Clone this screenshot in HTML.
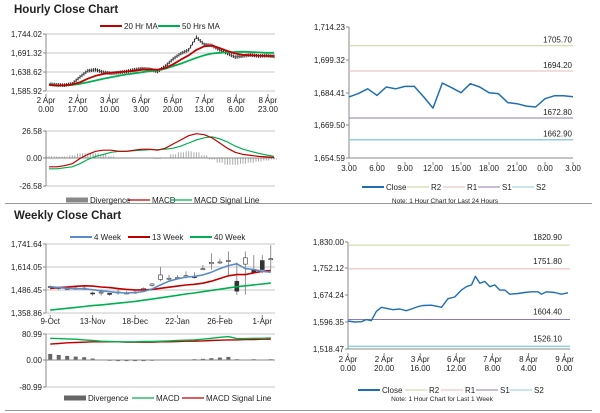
<!DOCTYPE html>
<html><head><meta charset="utf-8"><style>
html,body{margin:0;padding:0;background:#fff;}
svg{display:block;font-family:"Liberation Sans",sans-serif;}
text{font-size:8px;fill:#222;}
.t{font-size:11.5px;font-weight:bold;}
</style></head><body>
<svg id="s" width="600" height="413" viewBox="0 0 600 413" xmlns="http://www.w3.org/2000/svg">
<text class="t" x="14" y="13">Hourly Close Chart</text>
<text class="t" x="14" y="219">Weekly Close Chart</text>
<line x1="5" y1="203.5" x2="592" y2="203.5" stroke="#999"/>
<line x1="5" y1="410.5" x2="592" y2="410.5" stroke="#999"/>
</svg>
<script>
// ---- Hourly left (candles simplified) ----
const hCats = ["2 Apr|0.00","2 Apr|17.00","3 Apr|10.00","6 Apr|3.00","6 Apr|20.00","7 Apr|13.00","8 Apr|6.00","8 Apr|23.00"];
const hClose = [1605,1603,1602,1606,1625,1642,1645,1638,1635,1637,1640,1645,1648,1646,1640,1655,1675,1690,1700,1735,1715,1712,1700,1690,1680,1683,1686,1683,1684,1682];
const hMa20 = [1603,1601,1602,1604,1610,1620,1628,1633,1636,1638,1640,1642,1645,1646,1645,1650,1660,1673,1685,1700,1710,1712,1705,1697,1690,1686,1685,1684,1683,1683];
const hMa50 = [1605,1602,1601,1603,1606,1610,1615,1620,1624,1628,1632,1635,1638,1641,1643,1648,1655,1662,1670,1678,1685,1690,1692,1693,1694,1695,1694,1693,1692,1692];
const hTicks = ["1,744.02","1,691.32","1,638.62","1,585.92"];
const hMacd = [-8,-8,-7,-5,0,4,7,8,8,7,7,8,9,9,8,10,14,18,22,24,23,20,15,10,6,4,3,2,1.5,1];
const hSignal = [-10,-10,-9,-8,-5,-1,2,4,6,7,7,7.5,8,8.5,8.5,9,10,12,15,18,20,21,19,16,12,9,7,5,3.5,2];
// ---- Hourly right ----
const dCats = ["3.00","6.00","9.00","12.00","15.00","18.00","21.00","0.00","3.00"];
const dClose = [1682.4,1683.9,1686.1,1683.1,1686.9,1686.1,1687.2,1687.2,1682.4,1677.3,1688.7,1686.6,1684.3,1688.4,1686.9,1684.3,1683.9,1679.8,1679.3,1678.2,1677.8,1681.6,1682.9,1682.9,1682.5];
const dLevels = [1705.70,1694.20,1672.80,1662.90];
const dTicks = ["1,714.23","1,699.32","1,684.41","1,669.50","1,654.59"];
// ---- Weekly left ----
const wCats = ["9-Oct","13-Nov","18-Dec","22-Jan","26-Feb","1-Apr"];
const wOpen = [1500,1500,1490,1492,1497,1470,1470,1468,1470,1468,1472,1485,1512,1545,1548,1552,1560,1560,1600,1632,1640,1645,1535,1630,1600,1650,1655];
const wClose= [1506,1495,1495,1497,1494,1465,1475,1462,1475,1470,1475,1495,1520,1570,1552,1556,1566,1558,1605,1640,1642,1650,1480,1665,1585,1600,1660];
const wHigh = [1512,1505,1500,1505,1510,1478,1490,1470,1490,1480,1482,1500,1525,1615,1570,1570,1590,1585,1625,1690,1660,1700,1640,1700,1680,1680,1735];
const wLow  = [1495,1485,1485,1488,1485,1455,1455,1455,1460,1462,1465,1482,1505,1535,1540,1545,1550,1550,1595,1600,1630,1570,1460,1460,1580,1580,1600];
const w4 = [1505,1500,1496,1494,1493,1488,1482,1477,1472,1470,1472,1478,1492,1515,1535,1548,1558,1562,1570,1585,1605,1622,1632,1605,1600,1590,1585];
const w13 = [1495,1500,1503,1507,1510,1508,1503,1500,1494,1490,1487,1487,1490,1496,1502,1508,1514,1518,1524,1535,1550,1565,1572,1572,1582,1590,1595];
const w40 = [1375,1380,1385,1390,1395,1400,1404,1408,1413,1418,1423,1430,1436,1443,1450,1457,1464,1470,1477,1484,1491,1498,1505,1510,1515,1520,1525];
const wTicks = ["1,741.64","1,614.05","1,486.45","1,358.86"];
const wMacd = [68,67,66,65,63,61,59,58,57,57,57,58,58,59,60,61,62,63,65,68,71,73,67,67,68,68,69];
const wSignal = [50,52,54,55,56,57,57,57,57,56,56,56,56,57,57,58,59,59,60,61,62,63,63,64,64,65,65];
const wDiv = [20,17,14,12,10,6,3,1,0,-1,-1,0,1,2,3,3,3,4,5,7,9,11,4,3,4,3,4];
// ---- Weekly right (hours from 2 Apr 0.00) ----
const kCats = ["2 Apr|0.00","2 Apr|20.00","3 Apr|16.00","6 Apr|12.00","7 Apr|8.00","8 Apr|4.00","9 Apr|0.00"];
const kHours = [0,3.7,7.4,10.2,12.9,15.7,18.5,21.2,24.9,28.6,32.3,35.1,38.8,41.6,46.2,50,51.8,55.4,59.1,62.8,65.6,68.4,70.6,73,75.8,78.6,81.3,84.1,86.9,89.6,94.2,97.9,101.6,105.3,107.1,109.9,114.5,118.2,121.9];
const kClose = [1600,1597,1598,1604,1601,1628,1640,1637,1633,1635,1630,1635,1642,1645,1646,1642,1640,1665,1670,1690,1700,1705,1730,1710,1715,1700,1705,1690,1690,1678,1680,1683,1685,1685,1678,1685,1683,1678,1682];
const kLevels = [1820.90,1751.80,1604.40,1526.10];
const kTicks = ["1,830.00","1,752.12","1,674.24","1,596.35","1,518.47"];

const S = document.getElementById('s');
const NS = "http://www.w3.org/2000/svg";
function mk(tag, attrs, txt){const e=document.createElementNS(NS,tag);for(const k in attrs)e.setAttribute(k,attrs[k]);if(txt!==undefined)e.textContent=txt;S.appendChild(e);return e;}
function lin(d0,d1,r0,r1){return v=>r0+(v-d0)/(d1-d0)*(r1-r0);}
function path(xs,ys){return xs.map((x,i)=>(i?'L':'M')+x.toFixed(1)+','+ys[i].toFixed(1)).join('');}
function legend(items,y){items.forEach(it=>{
  let e;
  if(it.bar){e=mk('rect',{x:it.x,y:y-2.5,width:22,height:5,fill:it.c});}
  else{e=mk('line',{x1:it.x,y1:y,x2:it.x+22,y2:y,stroke:it.c,'stroke-width':it.w||2});}
  
  
  const t=mk('text',{x:it.x+24,y:y+3},it.t);
  
  
});}
function hgrid(x0,x1,ys,labels,name,grid){ys.forEach((y,i)=>{
  if(grid){const g=mk('line',{x1:x0,y1:y,x2:x1,y2:y,stroke:'#b5b5b5','stroke-width':0.8});
  
  }
  const tk=mk('line',{x1:x0-3,y1:y,x2:x0,y2:y,stroke:'#888'});
  
  
  const t=mk('text',{x:x0-4,y:y+3,'text-anchor':'end'},labels[i]);
  
  
});}
function axisLine(x1,y1,x2,y2,name){const l=mk('line',{x1,y1,x2,y2,stroke:'#888'});
  
  }
function xlabels(xs,cats,y,name){cats.forEach((c,i)=>{const p=c.split('|');
  const tk=mk('line',{x1:xs[i],y1:y-9,x2:xs[i],y2:y-6,stroke:'#888'});
  
  
  const t=mk('text',{x:xs[i],y:y,'text-anchor':'middle'},p[0]);
  
  
  if(p[1]){const t2=mk('text',{x:xs[i],y:y+9,'text-anchor':'middle'},p[1]);
  
  }
});}
function line(xs,ys,c,w,name){const e=mk('path',{d:path(xs,ys),fill:'none',stroke:c,'stroke-width':w,'stroke-linejoin':'round'});
  
  }

// ===== Hourly left main =====
{
 const x0=46,x1=275;
 const y=lin(1585.92,1744.02,91,34);
 const x=lin(0,hClose.length-1,x0+3,x1-1);
 hgrid(x0,x1,[34,53,72,91],hTicks,'hourly-y-axis',true);
 axisLine(x0,34,x0,91,'hourly-y-axis-line');
 const lx=hCats.map((c,i)=>x0+i*31.7);
 xlabels(lx,hCats,103,'hourly-x-axis');
 const xs=hClose.map((v,i)=>x(i));
 hClose.forEach((v,i)=>{if(i==0)return;
   const a=y(hClose[i-1]),b=y(v);
   for(let k=1;k<=4;k++){
     const xx=xs[i-1]+(xs[i]-xs[i-1])*k/4, yy=a+(b-a)*k/4;
     const c=mk('line',{x1:xx,y1:yy-1.8,x2:xx,y2:yy+1.8,stroke:'#222','stroke-width':1});
     
     
   }
 });
 line(xs,hClose.map(y),'#444',0.6,'hourly-close-trace');
 line(xs,hMa50.map(y),'#00b050',1.8,'hourly-50hr-ma-line');
 line(xs,hMa20.map(y),'#c00000',1.8,'hourly-20hr-ma-line');
 legend([{x:100,c:'#c00000',t:'20 Hr MA',n:'20hr-ma'},{x:158,c:'#00b050',t:'50 Hrs MA',n:'50hrs-ma'}],26);
 const my=lin(-26.58,26.58,186,131);
 hgrid(x0,x1,[131,186],["26.58","-26.58"],'hourly-macd-y-axis',true);
 hgrid(x0,x1,[158],["0.00"],'hourly-macd-zero',false);
 axisLine(x0,131,x0,186,'hourly-macd-y-axis-line');
 hMacd.forEach((v,i)=>{const d=v-hSignal[i];
   for(let k=0;k<3;k++){const xx=xs[i]+k*2.5-2.5;
   const b=mk('line',{x1:xx,y1:my(0),x2:xx,y2:my(d),stroke:'#aaa','stroke-width':1});
   
   }
 });
 axisLine(x0,158,x1,158,'hourly-macd-zero-line');
 line(xs,hSignal.map(my),'#00b050',1.2,'hourly-macd-signal-line');
 line(xs,hMacd.map(my),'#c00000',1.2,'hourly-macd-line');
 legend([{x:66,c:'#888',t:'Divergence',n:'divergence',bar:1},{x:128,c:'#c00000',t:'MACD',n:'macd',w:1.2},{x:170,c:'#00b050',t:'MACD Signal Line',n:'macd-signal',w:1.2}],200);
}
// ===== Hourly right =====
{
 const x0=349,x1=573;
 const y=lin(1654.59,1714.23,158,27);
 const x=lin(0,24,x0,x1);
 hgrid(x0,x1,[27,60,93,125,158],dTicks,'hourly24-y-axis',false);
 axisLine(x0,27,x0,158,'hourly24-y-axis-line');
 axisLine(x0,158,x1,158,'hourly24-x-axis-line');
 xlabels(dCats.map((c,i)=>x(i*3)),dCats,171,'hourly24-x-axis');
 const cols=['#c3d69b','#e6b9b8','#8c7bb0','#93cddd'];
 const names=['r2','r1','s1','s2'];
 dLevels.forEach((v,i)=>{const l=mk('line',{x1:x0,y1:y(v),x2:x1,y2:y(v),stroke:cols[i],'stroke-width':i==3?1.6:1});
   
   
   const t=mk('text',{x:x1-1,y:y(v)-3,'text-anchor':'end'},v.toFixed(2));
   
   });
 line(dClose.map((v,i)=>x(i)),dClose.map(y),'#1f6fb5',1.5,'hourly24-close-line');
 legend([{x:362,c:'#1f6fb5',t:'Close',n:'close'},{x:407,c:cols[0],t:'R2',n:'r2',w:1},{x:443,c:cols[1],t:'R1',n:'r1',w:1},{x:478,c:cols[2],t:'S1',n:'s1',w:1},{x:512,c:cols[3],t:'S2',n:'s2',w:1}],187);
 const n=mk('text',{x:445,y:203,'text-anchor':'middle',style:'font-size:6.5px'},'Note: 1 Hour Chart for Last 24 Hours');
 
 
}
// ===== Weekly left =====
{
 const x0=46,x1=275;
 const y=lin(1358.86,1741.64,313,244);
 const bw=(x1-x0)/wClose.length;
 const x=i=>x0+bw*(i+0.5);
 hgrid(x0,x1,[244,267,290,313],wTicks,'weekly-y-axis',true);
 axisLine(x0,244,x0,313,'weekly-y-axis-line');
 const lx=wCats.map((c,i)=>x(i*5));
 xlabels(lx,wCats,324,'weekly-x-axis');
 const xs=wClose.map((v,i)=>x(i));
 wClose.forEach((c,i)=>{const o=wOpen[i];
   const w=mk('line',{x1:xs[i],y1:y(wHigh[i]),x2:xs[i],y2:y(wLow[i]),stroke:'#777','stroke-width':0.8});
   
   
   const top=y(Math.max(o,c)),bot=y(Math.min(o,c));
   const r=mk('rect',{x:xs[i]-2,y:top,width:4,height:Math.max(1,bot-top),fill:c<o?'#333':'#fff',stroke:'#333','stroke-width':0.6});
   
   
 });
 line(xs,w40.map(y),'#00b050',1.6,'weekly-40week-line');
 line(xs,w13.map(y),'#c00000',1.6,'weekly-13week-line');
 line(xs,w4.map(y),'#5b8cc8',1.6,'weekly-4week-line');
 legend([{x:70,c:'#5b8cc8',t:'4 Week',n:'4week'},{x:128,c:'#c00000',t:'13 Week',n:'13week'},{x:190,c:'#00b050',t:'40 Week',n:'40week'}],237);
 const my=lin(-80.99,80.99,387,334);
 hgrid(x0,x1,[334,387],["80.99","-80.99"],'weekly-macd-y-axis',true);
 hgrid(x0,x1,[360],["0.00"],'weekly-macd-zero',false);
 axisLine(x0,334,x0,387,'weekly-macd-y-axis-line');
 wDiv.forEach((d,i)=>{const t=Math.min(my(0),my(d)),h=Math.abs(my(d)-my(0));
   const b=mk('rect',{x:xs[i]-2,y:t,width:4,height:Math.max(0.6,h),fill:'#666'});
   
   });
 axisLine(x0,360,x1,360,'weekly-macd-zero-line');
 line(xs,wSignal.map(my),'#c00000',1.4,'weekly-macd-signal-line');
 line(xs,wMacd.map(my),'#00b050',1.4,'weekly-macd-line');
 legend([{x:64,c:'#666',t:'Divergence',n:'w-divergence',bar:1},{x:132,c:'#00b050',t:'MACD',n:'w-macd',w:1.2},{x:182,c:'#c00000',t:'MACD Signal Line',n:'w-macd-signal',w:1.2}],398);
}
// ===== Weekly right =====
{
 const x0=348,x1=570;
 const y=lin(1518.47,1830,349,242);
 const x=lin(0,120,x0,x0+36.1*6);
 hgrid(x0,x1,[242,268,295,322,349],kTicks,'week1h-y-axis',false);
 axisLine(x0,242,x0,349,'week1h-y-axis-line');
 axisLine(x0,349,x1,349,'week1h-x-axis-line');
 xlabels(kCats.map((c,i)=>x(i*20)),kCats,362,'week1h-x-axis');
 const cols=['#c3d69b','#e6b9b8','#8c7bb0','#93cddd'];
 const names=['r2','r1','s1','s2'];
 kLevels.forEach((v,i)=>{const l=mk('line',{x1:x0,y1:y(v),x2:x1,y2:y(v),stroke:cols[i],'stroke-width':i==3?1.6:1});
   
   
   const t=mk('text',{x:x1-8,y:y(v)-5,'text-anchor':'end'},v.toFixed(2));
   
   });
 line(kHours.map(x),kClose.map(y),'#1f6fb5',1.4,'week1h-close-line');
 legend([{x:358,c:'#1f6fb5',t:'Close',n:'w-close'},{x:405,c:cols[0],t:'R2',n:'w-r2',w:1},{x:441,c:cols[1],t:'R1',n:'w-r1',w:1},{x:476,c:cols[2],t:'S1',n:'w-s1',w:1},{x:510,c:cols[3],t:'S2',n:'w-s2',w:1}],390);
 const n=mk('text',{x:442,y:401,'text-anchor':'middle',style:'font-size:6.5px'},'Note: 1 Hour Chart for Last 1 Week');
 
 
}
</script>
</body></html>
